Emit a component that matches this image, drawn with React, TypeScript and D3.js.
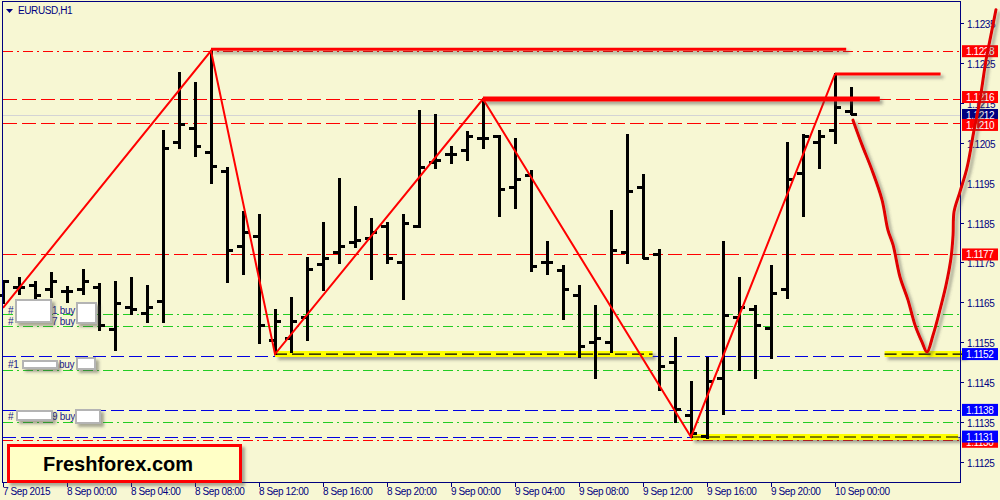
import React from "react";
import * as d3 from "d3";

// ---------- DATA ----------
const timeLabels = ["7 Sep 2015", "8 Sep 00:00", "8 Sep 04:00", "8 Sep 08:00", "8 Sep 12:00", "8 Sep 16:00", "8 Sep 20:00", "9 Sep 00:00", "9 Sep 04:00", "9 Sep 08:00", "9 Sep 12:00", "9 Sep 16:00", "9 Sep 20:00", "10 Sep 00:00"];
const timeLabelBars = [0, 4, 8, 12, 16, 20, 24, 28, 32, 36, 40, 44, 48, 52];

const opens = [1.11668, 1.11686, 1.11691, 1.11681, 1.11678, 1.11683, 1.11688, 1.11581, 1.11638, 1.11623, 1.11651, 1.12050, 1.12087, 1.12027, 1.11977, 1.11791, 1.11816, 1.11555, 1.11560, 1.11611, 1.11744, 1.11774, 1.11799, 1.11811, 1.11839, 1.11751, 1.11839, 1.12000, 1.12022, 1.12030, 1.12060, 1.12067, 1.11939, 1.11967, 1.11749, 1.11729, 1.11668, 1.11550, 1.11550, 1.11774, 1.11937, 1.11769, 1.11498, 1.11367, 1.11312, 1.11460, 1.11611, 1.11631, 1.11583, 1.11683, 1.11972, 1.12050, 1.12080, 1.12128];
const highs = [1.11701, 1.11711, 1.11701, 1.11724, 1.11688, 1.11731, 1.11696, 1.11701, 1.11711, 1.11691, 1.12080, 1.12225, 1.12200, 1.12281, 1.11987, 1.11877, 1.11869, 1.11631, 1.11661, 1.11761, 1.11849, 1.11959, 1.11889, 1.11859, 1.11849, 1.11869, 1.12130, 1.12120, 1.12040, 1.12077, 1.12160, 1.12067, 1.12060, 1.11980, 1.11801, 1.11741, 1.11691, 1.11641, 1.11879, 1.12070, 1.11970, 1.11781, 1.11560, 1.11450, 1.11510, 1.11801, 1.11711, 1.11641, 1.11741, 1.12050, 1.12070, 1.12080, 1.12223, 1.12188];
const lows = [1.11648, 1.11671, 1.11661, 1.11663, 1.11651, 1.11671, 1.11581, 1.11530, 1.11621, 1.11601, 1.11601, 1.12037, 1.12017, 1.11949, 1.11701, 1.11721, 1.11548, 1.11520, 1.11525, 1.11555, 1.11681, 1.11749, 1.11789, 1.11709, 1.11749, 1.11658, 1.11839, 1.11987, 1.12000, 1.12007, 1.12037, 1.11867, 1.11887, 1.11729, 1.11721, 1.11608, 1.11513, 1.11460, 1.11525, 1.11749, 1.11761, 1.11430, 1.11350, 1.11312, 1.11310, 1.11370, 1.11480, 1.11460, 1.11510, 1.11661, 1.11867, 1.11987, 1.12050, 1.12122];
const closes = [1.11701, 1.11686, 1.11666, 1.11701, 1.11678, 1.11701, 1.11591, 1.11648, 1.11633, 1.11638, 1.12037, 1.12097, 1.12040, 1.11990, 1.11781, 1.11826, 1.11591, 1.11601, 1.11601, 1.11731, 1.11761, 1.11791, 1.11804, 1.11826, 1.11761, 1.11847, 1.11987, 1.12007, 1.12022, 1.12067, 1.12060, 1.11932, 1.11959, 1.11741, 1.11749, 1.11681, 1.11540, 1.11560, 1.11779, 1.11927, 1.11761, 1.11490, 1.11380, 1.11320, 1.11450, 1.11618, 1.11638, 1.11591, 1.11671, 1.11959, 1.12067, 1.12067, 1.12138, 1.12122];

const priceTicks = ["1.1125", "1.1135", "1.1145", "1.1155", "1.1165", "1.1175", "1.1185", "1.1195", "1.1205", "1.1215", "1.1225", "1.1235"];

const redDashLevels = [1.1216, 1.1210, 1.1177];
const redDashDotLevels = [1.1228, 1.11305];
const blueDashLevels = [1.11516, 1.1138, 1.11313];
const greenDashDotLevels = [1.1162, 1.1159, 1.1148, 1.1135];
const bidLevel = 1.1212;

const zigzagBars = [0, 13, 17, 30, 43, 52];
const zigzagPrices = [1.11636, 1.12281, 1.11520, 1.12160, 1.11312, 1.12223];

const thickLevels = [1.12285, 1.1216, 1.12223];
const thickFrom = [13, 30, 52];
const thickTo = [52.7, 54.8, 58.6];
const thickWidths = [3, 5, 3];

const yellowLevels = [1.1152, 1.1152, 1.11312];
const yellowFrom = [17, 55.1, 43];
const yellowTo = [40.6, 60.1, 59.7];

const curveBars = [53.125, 53.69, 54.31, 54.94, 55.31, 55.63, 56.06, 56.56, 57.0, 57.44, 57.75, 58.13, 58.56, 58.94, 59.25, 59.38, 59.44, 59.81, 60.25, 60.69, 61.06, 61.44, 61.75, 62.06];
const curvePrices = [1.12107, 1.12045, 1.11982, 1.11907, 1.11831, 1.11794, 1.11714, 1.11656, 1.11593, 1.11550, 1.11525, 1.11568, 1.11631, 1.11693, 1.11761, 1.11819, 1.11877, 1.11927, 1.11987, 1.12082, 1.12158, 1.12258, 1.12321, 1.12384];

const priceLabelTexts = ["1.1130", "1.1228", "1.1216", "1.1212", "1.1210", "1.1177", "1.1152", "1.1138", "1.1131"];
const priceLabelValues = [1.11300, 1.1228, 1.12165, 1.1212, 1.12095, 1.1177, 1.1152, 1.1138, 1.11313];
const priceLabelKinds = ["red", "red", "red", "navy", "red", "red", "blue", "blue", "blue"];

// ---------- COMPONENT ----------
const BG = "#F7F7D3";
const NAVY = "#00007F";
const FONT = "'Liberation Sans', Arial, sans-serif";

export default function App() {
  const x = d3.scaleLinear().domain([0, 53]).range([3, 851]);
  const y = d3.scaleLinear().domain([1.1125, 1.1235]).range([461.7, 23.3]);
  const left = 2, right = 960, top = 1, bottom = 482;

  const zigzag = d3.line<number>().x((d) => x(zigzagBars[d])).y((d) => y(zigzagPrices[d]));
  const curve = d3.line<number>().x((d) => x(curveBars[d])).y((d) => y(curvePrices[d])).curve(d3.curveCatmullRom.alpha(0.5));

  const kindColor: Record<string, string> = { red: "#FF0000", navy: "#000080", blue: "#0000FF" };

  const hLine = (p: number, stroke: string, dash: string, key: string, w = 1) => (
    <line key={key} x1={left + 1} x2={right} y1={Math.round(y(p)) + 0.5} y2={Math.round(y(p)) + 0.5} stroke={stroke} strokeWidth={w} strokeDasharray={dash} />
  );

  return (
    <svg width={1000} height={500} style={{ position: "absolute", left: 0, top: 0, display: "block" }} fontFamily={FONT}>
      <defs>
        <filter id="sh" filterUnits="userSpaceOnUse" x={0} y={0} width={1000} height={500}>
          <feDropShadow dx={3} dy={3} stdDeviation={1.6} floodColor="#444" floodOpacity={0.45} />
        </filter>
      </defs>
      <rect x={0} y={0} width={1000} height={500} fill={BG} />

      {/* level lines */}
      {hLine(bidLevel, "#D4D4D4", "", "bid")}
      {greenDashDotLevels.map((p, i) => hLine(p, "#22CC22", "10,4,2,4", "g" + i))}
      {blueDashLevels.map((p, i) => hLine(p, "#0000E0", "13,5", "b" + i))}
      {redDashLevels.map((p, i) => hLine(p, "#FF0000", "14,5", "r" + i))}
      {redDashDotLevels.map((p, i) => hLine(p, "#FF0000", "10,4,2,4", "rd" + i))}

      {/* yellow highlighted lines */}
      {yellowLevels.map((p, i) => (
        <g key={"y" + i}>
          <line x1={x(yellowFrom[i])} x2={x(yellowTo[i])} y1={y(p)} y2={y(p)} stroke="#FFFF00" strokeWidth={6} filter="url(#sh)" />
          <line x1={x(yellowFrom[i])} x2={x(yellowTo[i])} y1={y(p)} y2={y(p)} stroke="#000" strokeWidth={1.2} strokeDasharray="12,5" />
        </g>
      ))}

      {/* bars */}
      <g stroke="#000" strokeWidth={3} shapeRendering="crispEdges">
        {opens.map((o, i) => {
          const cx = x(i);
          return (
            <g key={"bar" + i}>
              <line x1={cx} x2={cx} y1={y(highs[i]) - 1} y2={y(lows[i]) + 1} />
              <line x1={cx - 6} x2={cx} y1={y(o)} y2={y(o)} />
              <line x1={cx} x2={cx + 6} y1={y(closes[i])} y2={y(closes[i])} />
            </g>
          );
        })}
      </g>

      {/* zigzag */}
      <path d={zigzag(d3.range(zigzagBars.length)) || ""} fill="none" stroke="#FF0000" strokeWidth={2} />

      {/* thick horizontal lines */}
      {thickLevels.map((p, i) => (
        <line key={"t" + i} x1={x(thickFrom[i])} x2={x(thickTo[i])} y1={y(p)} y2={y(p)} stroke="#FF0000" strokeWidth={thickWidths[i]} filter="url(#sh)" />
      ))}

      {/* left order labels */}
      <g fill="#1A1A8C" fontSize={10} letterSpacing={-0.3}>
        <text x={8} y={314}>#</text>
        <text x={52} y={314}>1 buy</text>
        <text x={8} y={325}>#</text>
        <text x={52} y={325}>7 buy</text>
        <text x={8} y={368}>#1</text>
        <text x={59} y={368}>buy</text>
        <text x={8} y={420}>#</text>
        <text x={52} y={420}>9 buy</text>
      </g>
      <g fill="#FFFFFF" stroke="#B4B4B4" strokeWidth={2} filter="url(#sh)">
        <rect x={16} y={300} width={35} height={22} />
        <rect x={77} y={303} width={19} height={20} />
        <rect x={23} y={361} width={34} height={7} />
        <rect x={77} y={358} width={18} height={11} />
        <rect x={17} y={411} width={35} height={9} />
        <rect x={76} y={410} width={24} height={13} />
      </g>

      {/* plot border */}
      <rect x={left + 0.5} y={top + 0.5} width={right - left} height={bottom - top} fill="none" stroke={NAVY} strokeWidth={1} />

      {/* right axis */}
      <g fill={NAVY} fontSize={10} letterSpacing={-0.4}>
        {priceTicks.map((t) => {
          const py = Math.round(y(+t)) + 0.5;
          return (
            <g key={"pt" + t}>
              <line x1={right} x2={right + 4} y1={py} y2={py} stroke={NAVY} />
              <text x={967} y={py + 4}>{t}</text>
            </g>
          );
        })}
      </g>

      {/* price labels */}
      <g fontSize={10} letterSpacing={-0.4}>
        {priceLabelTexts.map((t, i) => {
          const py = y(priceLabelValues[i]);
          return (
            <g key={"pl" + i}>
              <rect x={962} y={py - 6} width={36} height={12} fill={kindColor[priceLabelKinds[i]]} />
              <text x={966} y={py + 4} fill="#FFFFFF">{t}</text>
            </g>
          );
        })}
      </g>

      {/* bottom axis */}
      <g fill={NAVY} fontSize={10} letterSpacing={-0.4}>
        {timeLabelBars.map((b, i) => (
          <g key={"tl" + i}>
            <line x1={Math.round(x(b)) + 0.5} x2={Math.round(x(b)) + 0.5} y1={bottom} y2={bottom + 5} stroke={NAVY} />
            <text x={x(b)} y={495}>{timeLabels[i]}</text>
          </g>
        ))}
      </g>

      {/* title */}
      <path d="M6,9 L13,9 L9.5,13 Z" fill={NAVY} />
      <text x={18} y={14} fontSize={10} fill={NAVY} letterSpacing={-0.4}>EURUSD,H1</text>

      {/* logo */}
      <rect x={8.5} y={445.5} width={232} height={36} fill="#FFFFC6" stroke="#FF0000" strokeWidth={3} filter="url(#sh)" />
      <text x={118} y={471} textAnchor="middle" fontSize={20} fontWeight="bold" fill="#000">Freshforex.com</text>

      {/* hand-drawn forecast curve */}
      <path d={curve(d3.range(curveBars.length)) || ""} fill="none" stroke="#E00000" strokeWidth={3} strokeLinecap="round" filter="url(#sh)" />
    </svg>
  );
}
